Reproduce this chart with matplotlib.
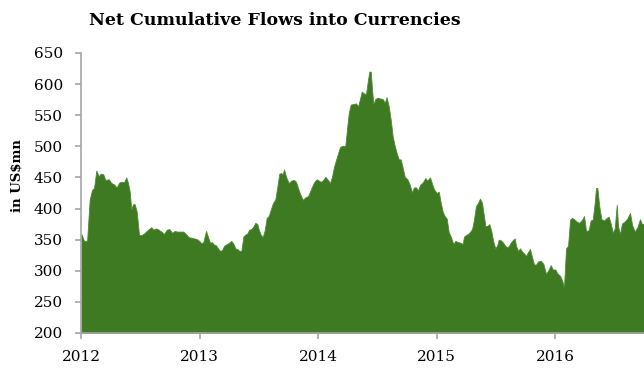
import numpy as np
import matplotlib
matplotlib.use("Agg")
import matplotlib.pyplot as plt

# years elapsed since start of 2012 and flows in US$mn
t = [0.003, 0.025, 0.051, 0.073, 0.093, 0.110, 0.129, 0.149, 0.166, 0.188,
     0.205, 0.234, 0.256, 0.278, 0.301, 0.323, 0.346, 0.363, 0.382, 0.397,
     0.411, 0.424, 0.439, 0.453, 0.470, 0.489, 0.509, 0.532, 0.554, 0.580,
     0.593, 0.610, 0.635, 0.656, 0.678, 0.700, 0.723, 0.745, 0.768, 0.791,
     0.810, 0.841, 0.863, 0.886, 0.909, 0.931, 0.954, 0.976, 0.998, 1.015,
     1.032, 1.055, 1.072, 1.089, 1.105, 1.122, 1.139, 1.156, 1.173, 1.190,
     1.207, 1.230, 1.251, 1.268, 1.285, 1.302, 1.319, 1.336, 1.353, 1.370,
     1.386, 1.403, 1.420, 1.437, 1.454, 1.471, 1.488, 1.500, 1.516, 1.533,
     1.550, 1.567, 1.584, 1.601, 1.618, 1.640, 1.657, 1.673, 1.690, 1.702,
     1.713, 1.730, 1.753, 1.775, 1.797, 1.814, 1.831, 1.848, 1.871, 1.893,
     1.916, 1.932, 1.949, 1.966, 1.989, 2.006, 2.023, 2.040, 2.062, 2.084,
     2.101, 2.118, 2.135, 2.152, 2.169, 2.186, 2.208, 2.230, 2.247, 2.259,
     2.276, 2.298, 2.321, 2.338, 2.354, 2.369, 2.388, 2.405, 2.422, 2.433,
     2.445, 2.456, 2.467, 2.484, 2.500, 2.523, 2.546, 2.563, 2.579, 2.597,
     2.614, 2.630, 2.647, 2.664, 2.681, 2.698, 2.715, 2.732, 2.754, 2.771,
     2.793, 2.810, 2.827, 2.844, 2.861, 2.884, 2.906, 2.922, 2.945, 2.962,
     2.979, 3.002, 3.019, 3.035, 3.052, 3.069, 3.086, 3.103, 3.120, 3.142,
     3.159, 3.181, 3.204, 3.221, 3.232, 3.255, 3.277, 3.300, 3.316, 3.333,
     3.350, 3.367, 3.384, 3.401, 3.412, 3.429, 3.446, 3.463, 3.479, 3.496,
     3.513, 3.525, 3.542, 3.559, 3.576, 3.592, 3.609, 3.626, 3.643, 3.660,
     3.671, 3.688, 3.705, 3.722, 3.738, 3.755, 3.772, 3.789, 3.806, 3.823,
     3.840, 3.857, 3.879, 3.902, 3.924, 3.941, 3.964, 3.981, 4.003, 4.019,
     4.042, 4.059, 4.076, 4.093, 4.110, 4.127, 4.143, 4.160, 4.183, 4.205,
     4.228, 4.245, 4.262, 4.284, 4.301, 4.318, 4.335, 4.346, 4.357, 4.374,
     4.391, 4.414, 4.436, 4.453, 4.470, 4.487, 4.504, 4.521, 4.532, 4.549,
     4.565, 4.588, 4.610, 4.633, 4.650, 4.673, 4.695, 4.717, 4.734, 4.751]

flows = [359, 348, 348, 414, 430, 433, 461, 452, 456, 455,
         446, 447, 441, 439, 434, 442, 443, 442, 450, 441,
         427, 399, 407, 407, 395, 358, 357, 360, 364, 368,
         370, 366, 368, 366, 363, 359, 366, 367, 361, 364,
         363, 363, 363, 359, 354, 353, 352, 351, 348, 344,
         346, 364, 354, 345, 346, 342, 341, 336, 332, 333,
         340, 343, 345, 348, 344, 336, 335, 332, 332, 355,
         358, 360, 366, 367, 371, 377, 375, 366, 358, 354,
         365, 385, 388, 398, 408, 415, 435, 456, 457, 455,
         463, 451, 441, 445, 446, 443, 433, 424, 414, 418,
         420, 427, 435, 442, 447, 445, 443, 445, 451, 446,
         441, 451, 467, 478, 489, 499, 501, 500, 532, 553,
         567, 568, 569, 564, 576, 588, 585, 584, 607, 620,
         620, 591, 568, 576, 578, 577, 576, 570, 579, 564,
         542, 516, 501, 489, 479, 479, 465, 451, 447, 440,
         426, 434, 434, 429, 438, 442, 449, 445, 450, 440,
         431, 425, 427, 410, 395, 388, 384, 362, 355, 343,
         348, 346, 345, 343, 355, 358, 361, 367, 382, 404,
         409, 416, 409, 387, 372, 372, 375, 363, 347, 336,
         341, 350, 349, 346, 341, 338, 339, 345, 349, 352,
         340, 332, 336, 331, 328, 324, 330, 335, 322, 310,
         310, 315, 316, 311, 295, 300, 309, 302, 302, 296,
         292, 285, 274, 336, 340, 382, 385, 383, 379, 377,
         382, 388, 364, 365, 381, 382, 409, 433, 433, 403,
         383, 381, 385, 387, 376, 361, 368, 406, 371, 359,
         376, 379, 384, 393, 374, 363, 370, 383, 375, 376]

years = [2012, 2013, 2014, 2015, 2016]
yticks = [200, 250, 300, 350, 400, 450, 500, 550, 600, 650]

x = 2012 + np.array(t)

plt.rcParams['font.family'] = ['DejaVu Serif']

fig = plt.figure(figsize=(6.44, 3.69), dpi=100)
ax = fig.add_axes([0.1258, 0.0976, 0.8742, 0.7588])

ax.fill_between(x, 200, flows, color='#3d7a22', linewidth=0.6, edgecolor='#4f8a35')

ax.set_xlim(2012, x[-1])
ax.set_ylim(200, 650)
ax.set_xticks(years)
ax.set_xticklabels([str(y) for y in years])
ax.set_yticks(yticks)

for s in ['top', 'right']:
    ax.spines[s].set_visible(False)
for s in ['left', 'bottom']:
    ax.spines[s].set_color('#a6a6a6')
    ax.spines[s].set_linewidth(1.2)

ax.tick_params(axis='both', colors='#a6a6a6', length=4, width=1.2, labelcolor='black',
               labelsize=11)
ax.tick_params(axis='y', pad=9)
ax.tick_params(axis='x', pad=8)

fig.text(0.426, 0.945, 'Net Cumulative Flows into Currencies', ha='center', va='center',
         fontsize=12.5, fontweight='bold')
fig.text(0.026, 0.523, 'in US$mn', ha='center', va='center', rotation=90,
         fontsize=9.5, fontweight='bold')

fig.savefig('out.png', dpi=100)
